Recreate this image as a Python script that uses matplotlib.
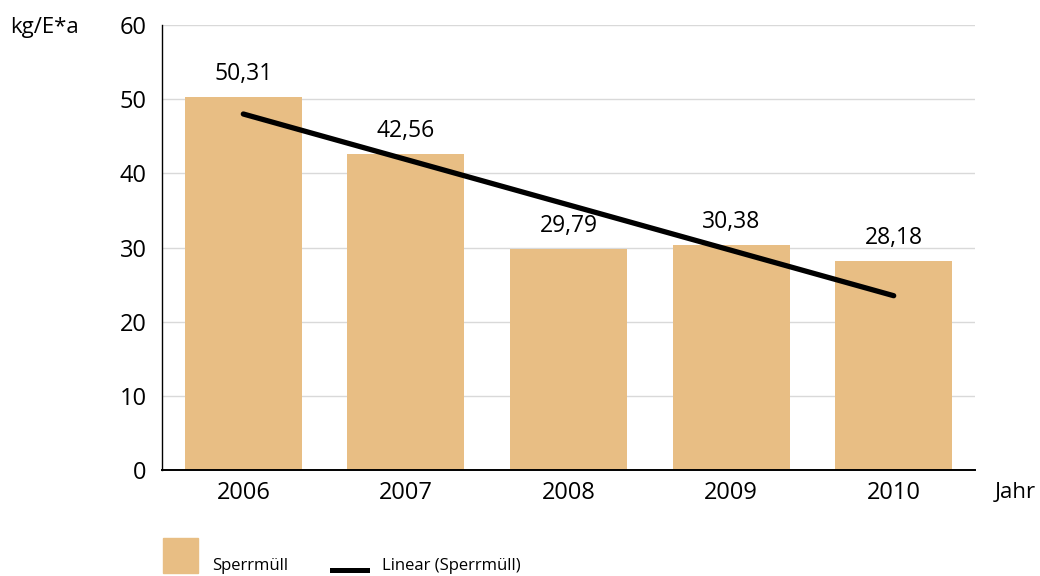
import numpy as np
import matplotlib
matplotlib.use('Agg')
import matplotlib.pyplot as plt
from matplotlib.patches import Rectangle
from matplotlib.lines import Line2D

years = ['2006', '2007', '2008', '2009', '2010']
sperrmuell = [50.31, 42.56, 29.79, 30.38, 28.18]
# trend line end values
trend = [48.0, 23.5]
yticks = [0, 10, 20, 30, 40, 50, 60]

bar_color = '#E8BE84'
plt.rcParams['font.family'] = ['Open Sans', 'DejaVu Sans']

fig = plt.figure(figsize=(10.4, 5.76), dpi=100)
ax = fig.add_axes([0.1558, 0.184, 0.7817, 0.7726])

x = np.arange(len(years))
ax.bar(x, sperrmuell, width=0.72, color=bar_color, zorder=2)

# linear trend
ax.plot([x[0], x[-1]], trend, color='black', lw=3.8,
        solid_capstyle='round', zorder=3)

for xi, v in zip(x, sperrmuell):
    ax.annotate(f"{v:.2f}".replace('.', ','), (xi, v), xytext=(0, 8),
                textcoords='offset points', ha='center', va='bottom', fontsize=16.5)

ax.set_xlim(-0.5, len(years) - 0.5)
ax.set_ylim(0, 60)
ax.set_yticks(yticks)
ax.set_xticks(x)
ax.set_xticklabels(years)
ax.tick_params(axis='both', length=0, labelsize=17)
ax.tick_params(axis='y', pad=11)
ax.tick_params(axis='x', pad=8)
ax.grid(axis='y', color='#d9d9d9', lw=1, zorder=0)
for s in ['top', 'right']:
    ax.spines[s].set_visible(False)
ax.spines['left'].set_linewidth(1)
ax.spines['bottom'].set_linewidth(1.4)

fig.text(10 / 1040, 1 - 27 / 576, 'kg/E*a', fontsize=16, va='center', ha='left')
fig.text(995 / 1040, 1 - 493 / 576, 'Jahr', fontsize=16, va='center', ha='left')

# legend
fig.add_artist(Rectangle((163 / 1040, 1 - 573 / 576), 35 / 1040, 35 / 576,
                         transform=fig.transFigure, color=bar_color))
fig.text(212 / 1040, 1 - 566 / 576, 'Sperrmüll', fontsize=12, va='center')
fig.add_artist(Line2D([332 / 1040, 367 / 1040], [1 - 570 / 576, 1 - 570 / 576],
                      transform=fig.transFigure, color='black', lw=3.6))
fig.text(382 / 1040, 1 - 566 / 576, 'Linear (Sperrmüll)', fontsize=12, va='center')

fig.savefig('out.png', dpi=100)
